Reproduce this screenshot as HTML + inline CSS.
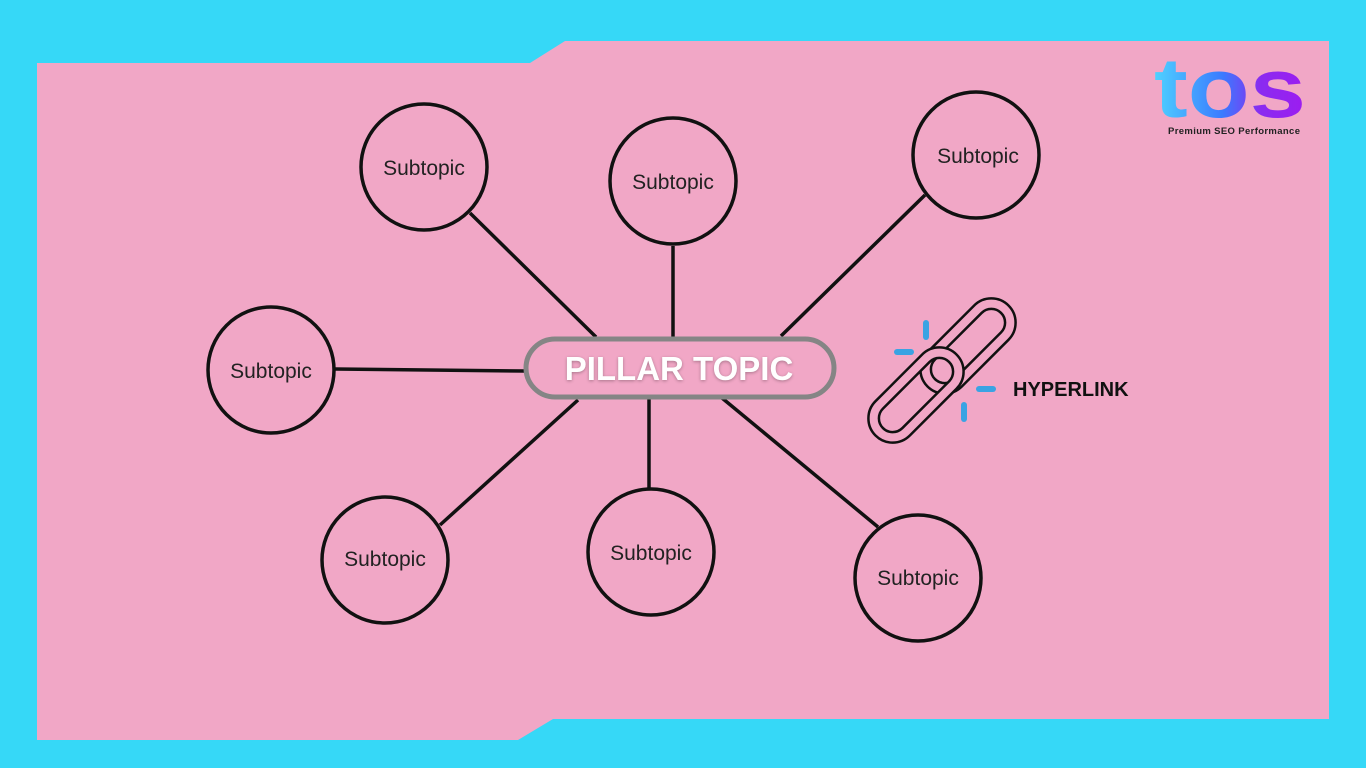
<!DOCTYPE html>
<html><head><meta charset="utf-8"><style>
html,body{margin:0;padding:0;width:1366px;height:768px;overflow:hidden;background:#36d8f7}
svg{display:block}
text{font-family:"Liberation Sans",sans-serif}
</style></head><body>
<svg width="1366" height="768" viewBox="0 0 1366 768">
<defs>
<linearGradient id="g" x1="0" x2="1" y1="0" y2="0"><stop offset="0" stop-color="#4fd2ff"/><stop offset="0.45" stop-color="#3a7bff"/><stop offset="0.7" stop-color="#8a2bf0"/><stop offset="1" stop-color="#9d1cf0"/></linearGradient>
</defs>
<polygon points="37,63 530,63 565,41 1329,41 1329,719 553,719 518,740 37,740" fill="#f1a7c6"/>
<g stroke="#111" stroke-width="3.5" fill="none">
<line x1="470" y1="213" x2="596" y2="337"/>
<line x1="673" y1="246" x2="673" y2="338"/>
<line x1="925" y1="195" x2="781" y2="336"/>
<line x1="335" y1="369" x2="525" y2="371"/>
<line x1="440" y1="525" x2="578" y2="400"/>
<line x1="649" y1="398" x2="649" y2="489"/>
<line x1="722" y1="398" x2="878" y2="527"/>
<circle cx="424" cy="167" r="63"/>
<circle cx="673" cy="181" r="63"/>
<circle cx="976" cy="155" r="63"/>
<circle cx="271" cy="370" r="63"/>
<circle cx="385" cy="560" r="63"/>
<circle cx="651" cy="552" r="63"/>
<circle cx="918" cy="578" r="63"/>
</g>
<g font-size="21" fill="#222" text-anchor="middle">
<text x="424" y="175">Subtopic</text>
<text x="673" y="189">Subtopic</text>
<text x="978" y="163">Subtopic</text>
<text x="271" y="378">Subtopic</text>
<text x="385" y="566">Subtopic</text>
<text x="651" y="560">Subtopic</text>
<text x="918" y="585">Subtopic</text>
</g>
<rect x="526" y="339" width="308" height="58" rx="29" fill="#f1a7c6" stroke="#858585" stroke-width="5"/>
<text x="679" y="380" font-size="33" font-weight="bold" fill="#fff" text-anchor="middle" style="text-shadow:0 1px 3px rgba(0,0,0,.3)">PILLAR TOPIC</text>
<g transform="translate(968,346) rotate(-45)"><rect x="-52" y="-19" width="104" height="38" rx="19" fill="none" stroke="#111" stroke-width="13"/><rect x="-52" y="-19" width="104" height="38" rx="19" fill="none" stroke="#f1a7c6" stroke-width="8"/></g>
<g transform="translate(916,395) rotate(-45)"><rect x="-52" y="-19" width="104" height="38" rx="19" fill="none" stroke="#111" stroke-width="13"/><rect x="-52" y="-19" width="104" height="38" rx="19" fill="none" stroke="#f1a7c6" stroke-width="8"/></g>
<g stroke="#3aa3e3" stroke-width="6" stroke-linecap="round">
<line x1="926" y1="323" x2="926" y2="337"/>
<line x1="897" y1="352" x2="911" y2="352"/>
<line x1="979" y1="389" x2="993" y2="389"/>
<line x1="964" y1="405" x2="964" y2="419"/>
</g>
<text x="1013" y="396" font-size="20" font-weight="bold" fill="#111">HYPERLINK</text>
<text x="1154" y="117" font-size="84" font-weight="bold" fill="url(#g)" textLength="152" lengthAdjust="spacingAndGlyphs">tos</text>
<text x="1168" y="134" font-size="9.5" font-weight="bold" fill="#222" textLength="132">Premium SEO Performance</text>
</svg>
</body></html>
